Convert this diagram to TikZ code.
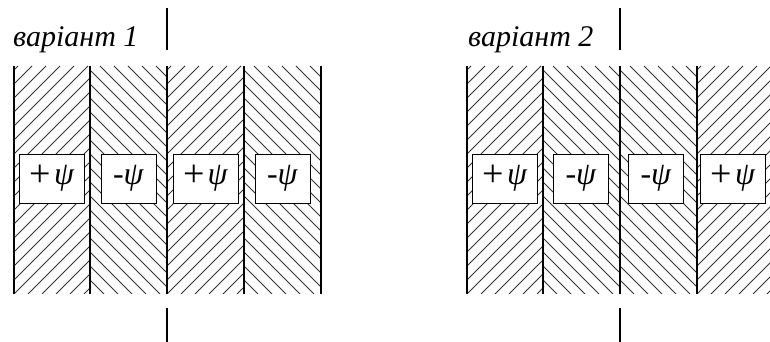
\documentclass[tikz,border=0pt]{standalone}
\usepackage{fontspec}
\setmainfont{Liberation Serif}
\usetikzlibrary{positioning}

\newcommand{\psiup}{\textit{ψ}}
\newcommand{\plusup}{\raisebox{-2pt}{\fontsize{38}{38}\selectfont+}\kern3pt}

\begin{document}
\begin{tikzpicture}[
  x=1pt, y=1pt,
  hatch/.style={line width=0.8pt, draw=black!80},
  wall/.style={line width=2pt},
  axis/.style={line width=1.1pt},
  title/.style={anchor=base west, inner sep=0pt, font=\itshape\fontsize{30}{34}\selectfont},
  psibox/.style={draw, line width=0.6pt, fill=white, minimum height=49pt, inner sep=0pt, font=\fontsize{32}{36}\selectfont},
  wide/.style={psibox, minimum width=65pt},
  narrow/.style={psibox, minimum width=55pt}
]
\useasboundingbox (0,0) rectangle (770,342);

% hatched layers: left edge / direction
\foreach \xa/\dir in {14/1,90/-1,167/1,244/-1,467/1,543/-1,620/-1,697/1}{
  \begin{scope}
    \clip (\xa,48) rectangle ++(77,228);
    \foreach \k in {-17,...,22}
      \draw[hatch] (\xa+\k*14,48) -- ++(\dir*228,228);
  \end{scope}
}

\foreach \xa in {14,90,167,244,321,467,543,620,697}
  \draw[wall] (\xa,48) -- (\xa,276);

% symmetry axes
\foreach \xa in {167,620}{
  \draw[axis] (\xa,334) -- (\xa,292);
  \draw[axis] (\xa,34) -- (\xa,0);
}

\node[title] (var1) at (13,295) {варіант 1};
\node[title] (var2) at (468,295) {варіант 2};

\node[wide]   (a1) at (52,163.5)  {\plusup\psiup};
\node[narrow] (a2) at (128.5,163.5) {-\psiup};
\node[wide]   (a3) at (205.5,163.5) {\plusup\psiup};
\node[narrow] (a4) at (282.5,163.5) {-\psiup};

\node[wide]   (b1) at (505,163.5) {\plusup\psiup};
\node[narrow] (b2) at (581,163.5) {-\psiup};
\node[narrow] (b3) at (656,163.5) {-\psiup};
\node[wide]   (b4) at (733,163.5) {\plusup\psiup};

\end{tikzpicture}
\end{document}
